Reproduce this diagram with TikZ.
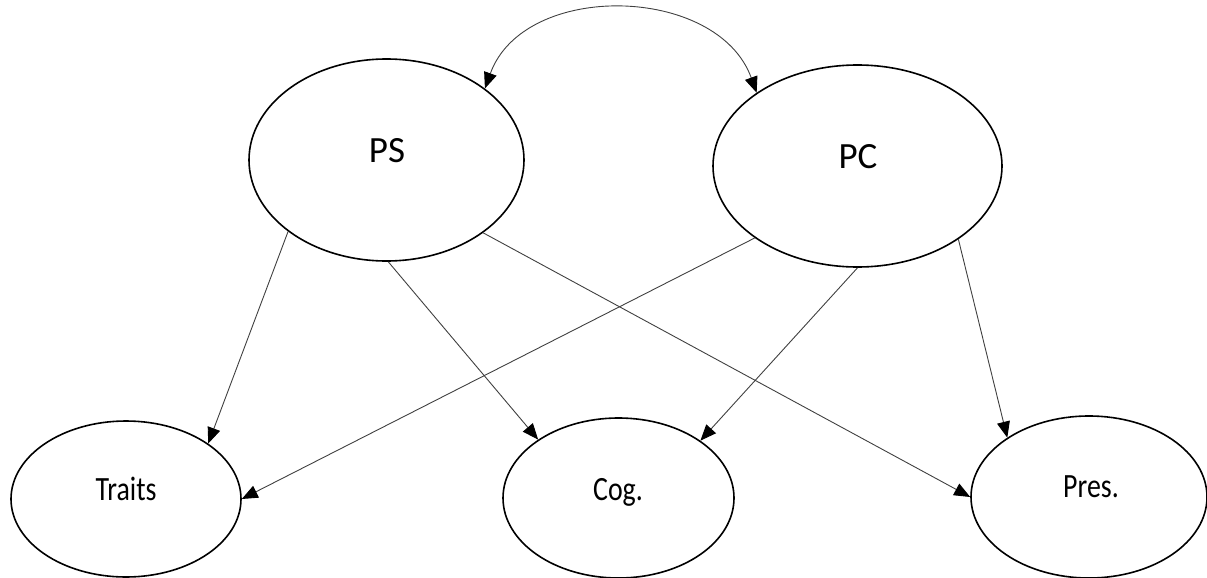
\documentclass[tikz,border=0pt]{standalone}
\usepackage{fontspec}
\setmainfont{Carlito}
\usetikzlibrary{arrows.meta,shapes.geometric,calc}
\begin{document}
\begin{tikzpicture}[x=1pt,y=-1pt,
  ell/.style={draw=black, line width=1.6pt, ellipse, inner sep=0pt},
  tip/.tip={Triangle[length=16pt,width=13pt,color=black]},
  conn/.style={draw=black!75, line width=0.9pt, -tip},
  toplbl/.style={anchor=base, font=\fontsize{37}{44}\selectfont},
  botlbl/.style={anchor=base, font=\fontsize{34}{40}\selectfont}]
\useasboundingbox (0,0) rectangle (1207,578);
% ellipses
\node[ell, minimum width=275pt, minimum height=202pt] (PS) at (386.5,160) {};
\node[ell, minimum width=289pt, minimum height=202pt] (PC) at (857.5,166) {};
\node[ell, minimum width=230pt, minimum height=156pt] (Traits) at (126,499) {};
\node[ell, minimum width=231pt, minimum height=160pt] (Cog) at (618.5,498) {};
\node[ell, minimum width=236pt, minimum height=162pt] (Pres) at (1089,497) {};
% labels
\node[toplbl] (PSt) at (387,162) {PS};
\node[toplbl] (PCt) at (858,168) {PC};
\node[botlbl] (Tt) at (126,500) {\scalebox{0.82}[1]{Traits}};
\node[botlbl] (Ct) at (618,500) {\scalebox{0.82}[1]{Cog.}};
\node[botlbl] (Prt) at (1091,497) {\scalebox{0.82}[1]{Pres.}};
% connectors
\draw[conn] (PS.216.8) -- (Traits.34.7);
\draw[conn] (PS.271) -- (Cog.144.6);
\draw[conn] (PS.323.8) -- (Pres.180);
\draw[conn] (PC.215.1) -- (Traits.0.5);
\draw[conn] (PC.270) -- (Cog.35);
\draw[conn] (PC.324.6) -- (Pres.144.1);
% correlation
\draw[conn, tip-tip] (PS.36.5) .. controls ($(PS.36.5)+(39,-108)$) and ($(PC.144.5)+(-39,-108)$) .. (PC.144.5);
\end{tikzpicture}
\end{document}
